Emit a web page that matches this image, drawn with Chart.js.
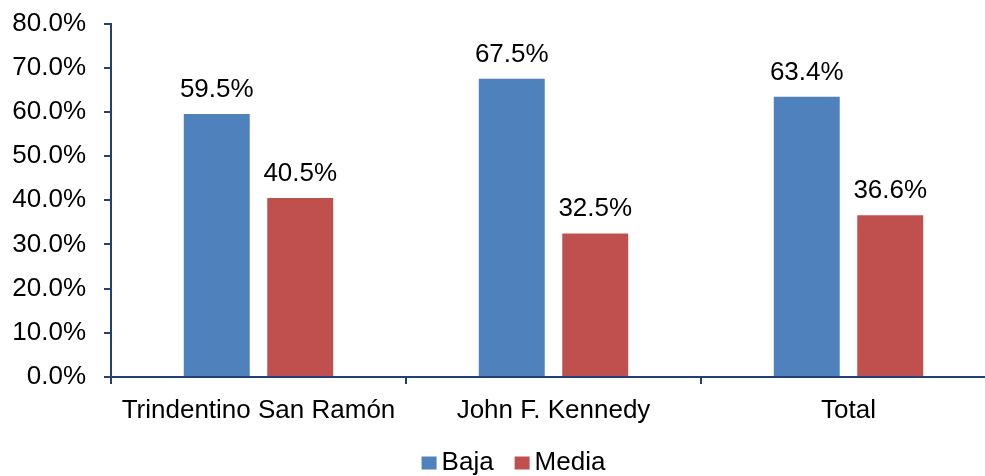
<!DOCTYPE html>
<html>
<head>
<meta charset="utf-8">
<script src="https://cdn.jsdelivr.net/npm/chart.js@4"></script>
<style>
  html, body { margin: 0; padding: 0; background: #ffffff; overflow: hidden; }
  #wrap { position: absolute; left: 0; top: 0; }
</style>
</head>
<body>
<div id="wrap"><canvas id="c" width="996" height="476"></canvas></div>
<script>
const categories = ["Trindentino San Ramón", "John F. Kennedy", "Total"];
const bajaValues = [59.5, 67.5, 63.4];
const mediaValues = [40.5, 32.5, 36.6];
const seriesNames = ["Baja", "Media"];
const seriesColors = ["#4F81BD", "#C0504D"];
const yTicks = [0, 10, 20, 30, 40, 50, 60, 70, 80];

const FONT = "'Liberation Sans', Arial, sans-serif";
const FS = 26;
const AXIS = "#243F78";

const valueLabels = {
  id: "valueLabels",
  afterDatasetsDraw(chart) {
    const ctx = chart.ctx;
    ctx.save();
    ctx.font = FS + "px " + FONT;
    ctx.fillStyle = "#000000";
    ctx.textAlign = "center";
    ctx.textBaseline = "alphabetic";
    chart.data.datasets.forEach((ds, i) => {
      const meta = chart.getDatasetMeta(i);
      meta.data.forEach((bar, j) => {
        ctx.fillText(ds.data[j].toFixed(1) + "%", bar.x, bar.y - 17);
      });
    });
    ctx.restore();
  }
};

// Legend drawn at the bottom, Excel-like spacing (box, small gap, text)
const excelLegend = {
  id: "excelLegend",
  afterDraw(chart) {
    const ctx = chart.ctx;
    ctx.save();
    ctx.font = FS + "px " + FONT;
    ctx.textBaseline = "alphabetic";
    ctx.textAlign = "left";
    const boxW = 15, boxH = 13, gap = 5, itemGap = 21;
    const items = chart.data.datasets.map(ds => ({ text: ds.label, color: ds.backgroundColor }));
    let total = 0;
    items.forEach((it, i) => {
      it.w = ctx.measureText(it.text).width;
      total += boxW + gap + it.w + (i < items.length - 1 ? itemGap : 0);
    });
    const centerX = chart.width / 2 + 15.5;
    const baseline = chart.height - 6.5;
    let x = centerX - total / 2;
    items.forEach(it => {
      ctx.fillStyle = it.color;
      ctx.fillRect(x, baseline - 13, boxW, boxH);
      ctx.fillStyle = "#000000";
      ctx.fillText(it.text, x + boxW + gap, baseline);
      x += boxW + gap + it.w + itemGap;
    });
    ctx.restore();
  }
};

new Chart(document.getElementById("c"), {
  type: "bar",
  data: {
    labels: categories,
    datasets: [
      { label: seriesNames[0], data: bajaValues, backgroundColor: seriesColors[0],
        categoryPercentage: 0.566, barPercentage: 0.79 },
      { label: seriesNames[1], data: mediaValues, backgroundColor: seriesColors[1],
        categoryPercentage: 0.566, barPercentage: 0.79 }
    ]
  },
  options: {
    responsive: false,
    animation: false,
    devicePixelRatio: 1,
    layout: { padding: { left: 0, right: 0, top: 23.5, bottom: 33 } },
    plugins: {
      tooltip: { enabled: false },
      legend: { display: false }
    },
    scales: {
      x: {
        afterFit: (s) => { s.height = 66; },
        grid: { display: true, drawOnChartArea: false, drawTicks: true, tickLength: 7, color: AXIS, lineWidth: 2, offset: true },
        border: { display: true, color: AXIS, width: 2 },
        ticks: { font: { family: FONT, size: FS }, color: "#000000", padding: 11, maxRotation: 0, autoSkip: false }
      },
      y: {
        min: 0, max: 80,
        afterFit: (s) => { s.width = 111; s.paddingTop = 0; s.paddingBottom = 0; },
        afterBuildTicks: (s) => { s.ticks = yTicks.map(v => ({ value: v })); },
        grid: { display: true, drawOnChartArea: false, drawTicks: true, tickLength: 7, color: AXIS, lineWidth: 2 },
        border: { display: true, color: AXIS, width: 2 },
        ticks: { font: { family: FONT, size: FS }, color: "#000000", padding: 18,
          callback: (v) => Number(v).toFixed(1) + "%" }
      }
    }
  },
  plugins: [valueLabels, excelLegend]
});
</script>
</body>
</html>
